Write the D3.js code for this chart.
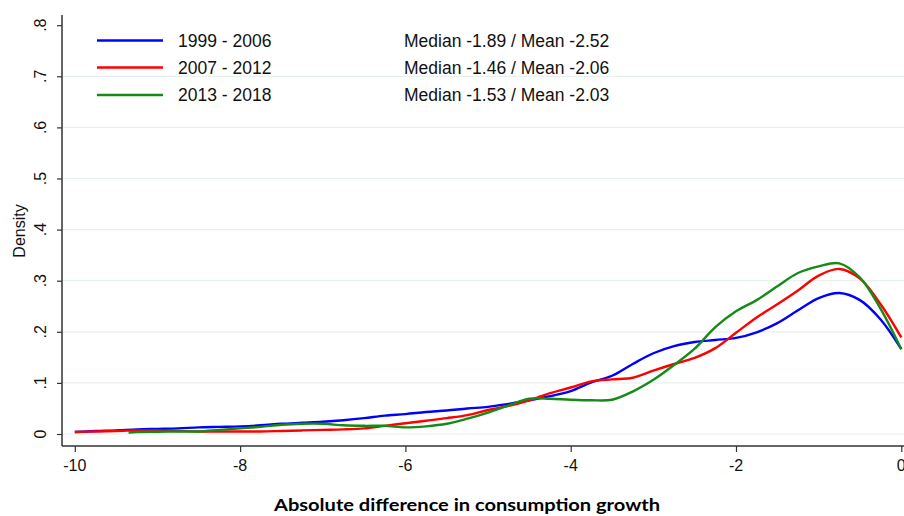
<!DOCTYPE html>
<html>
<head>
<meta charset="utf-8">
<script src="https://cdn.jsdelivr.net/npm/d3@7"></script>
<style>
  html, body { margin: 0; padding: 0; background: #ffffff; }
  svg { display: block; }
</style>
</head>
<body>
<svg id="chart" width="904" height="516"></svg>
<script>
// ---- data ----
const xBlueRed = [-10, -9.75, -9.5, -9.25, -9, -8.75, -8.5, -8.25, -8, -7.75, -7.5, -7.25, -7, -6.75, -6.5, -6.25, -6, -5.75, -5.5, -5.25, -5, -4.75, -4.5, -4.25, -4, -3.75, -3.5, -3.25, -3, -2.75, -2.5, -2.25, -2, -1.75, -1.5, -1.25, -1, -0.75, -0.5, -0.25, 0];
const blueY = [.004, .006, .007, .009, .010, .011, .013, .014, .015, .017, .020, .022, .024, .027, .031, .036, .039, .043, .046, .050, .053, .059, .066, .074, .084, .101, .114, .137, .158, .172, .180, .184, .188, .199, .217, .242, .266, .276, .262, .224, .166];
const redY = [.004, .005, .006, .007, .007, .006, .005, .005, .005, .005, .006, .007, .008, .009, .011, .016, .021, .026, .031, .037, .047, .055, .066, .080, .091, .103, .107, .110, .124, .137, .149, .168, .198, .228, .254, .281, .310, .323, .304, .254, .189];
const xGreen = [-9.35, -9.25, -9, -8.75, -8.5, -8.25, -8, -7.75, -7.5, -7.25, -7, -6.75, -6.5, -6.25, -6, -5.75, -5.5, -5.25, -5, -4.75, -4.5, -4.25, -4, -3.75, -3.5, -3.25, -3, -2.75, -2.5, -2.25, -2, -1.75, -1.5, -1.25, -1, -0.75, -0.5, -0.25, 0];
const greenY = [.003, .004, .0045, .005, .005, .008, .011, .014, .018, .020, .020, .017, .016, .016, .013, .015, .020, .030, .042, .056, .069, .069, .067, .066, .067, .083, .106, .135, .167, .209, .240, .262, .289, .315, .328, .334, .306, .245, .166];

const seriesNames = ["1999 - 2006", "2007 - 2012", "2013 - 2018"];
const seriesStats = ["Median -1.89 / Mean -2.52", "Median -1.46 / Mean -2.06", "Median -1.53 / Mean -2.03"];
const seriesColors = ["#0000ff", "#ff0000", "#168a16"];

const xTicks = [-10, -8, -6, -4, -2, 0];
const xTickLabels = ["-10", "-8", "-6", "-4", "-2", "0"];
const yTicks = [0, .1, .2, .3, .4, .5, .6, .7, .8];
const yTickLabels = ["0", ".1", ".2", ".3", ".4", ".5", ".6", ".7", ".8"];
const yGrid = [0, .1, .2, .3, .4, .5, .6, .7];

const xTitle = "Absolute difference in consumption growth";
const yTitle = "Density";

// ---- layout ----
const svg = d3.select("#chart");
const x = d3.scaleLinear().domain([-10, 0]).range([74.8, 901.3]);
const y = d3.scaleLinear().domain([0, 0.8]).range([434, 25.2]);
const axisX = 62, axisY = 446;
const tickFont = "'Liberation Sans', Arial, Helvetica, sans-serif";

// grid lines
svg.append("g").selectAll("line").data(yGrid).join("line")
  .attr("x1", axisX).attr("x2", 904)
  .attr("y1", d => y(d)).attr("y2", d => y(d))
  .attr("stroke", "#e9f0f2").attr("stroke-width", 1.2);

// left axis
const gy = svg.append("g").attr("transform", `translate(${axisX},0)`)
  .call(d3.axisLeft(y).tickValues(yTicks).tickSize(5).tickFormat(""));
gy.select(".domain").remove();
gy.selectAll(".tick line").attr("stroke", "#333").attr("stroke-width", 1.2);
svg.append("line").attr("x1", axisX).attr("x2", axisX).attr("y1", 15).attr("y2", axisY)
  .attr("stroke", "#333").attr("stroke-width", 1.5);
svg.append("g").selectAll("text").data(yTicks).join("text")
  .attr("transform", d => `translate(46,${y(d)}) rotate(-90)`)
  .attr("text-anchor", "middle")
  .attr("font-family", tickFont).attr("font-size", 16).attr("fill", "#111")
  .text((d, i) => yTickLabels[i]);

// bottom axis
const gx = svg.append("g").attr("transform", `translate(0,${axisY})`)
  .call(d3.axisBottom(x).tickValues(xTicks).tickSize(6).tickFormat(""));
gx.select(".domain").remove();
gx.selectAll(".tick line").attr("stroke", "#333").attr("stroke-width", 1.2);
svg.append("line").attr("x1", axisX).attr("x2", 904).attr("y1", axisY).attr("y2", axisY)
  .attr("stroke", "#333").attr("stroke-width", 1.5);
svg.append("g").selectAll("text").data(xTicks).join("text")
  .attr("x", d => x(d)).attr("y", 471)
  .attr("text-anchor", "middle")
  .attr("font-family", tickFont).attr("font-size", 16).attr("fill", "#111")
  .text((d, i) => xTickLabels[i]);

// titles
svg.append("text")
  .attr("transform", "translate(25,231) rotate(-90)")
  .attr("text-anchor", "middle")
  .attr("font-family", tickFont).attr("font-size", 16).attr("fill", "#111")
  .text(yTitle);
svg.append("text")
  .attr("x", 467).attr("y", 511)
  .attr("text-anchor", "middle")
  .attr("font-family", "Lato, 'Open Sans', sans-serif").attr("font-weight", "bold")
  .attr("font-size", 17).attr("fill", "#000")
  .attr("textLength", 386).attr("lengthAdjust", "spacingAndGlyphs")
  .text(xTitle);

// curves
const line = d3.line().x(d => x(d[0])).y(d => y(d[1])).curve(d3.curveCatmullRom.alpha(0.5));
const seriesData = [
  d3.zip(xBlueRed, blueY),
  d3.zip(xBlueRed, redY),
  d3.zip(xGreen, greenY)
];
svg.append("g").selectAll("path").data(seriesData).join("path")
  .attr("d", line)
  .attr("fill", "none")
  .attr("stroke", (d, i) => seriesColors[i])
  .attr("stroke-width", 2.4)
  .attr("stroke-linejoin", "round");

// legend
const legY = [40.5, 67.5, 95];
const leg = svg.append("g");
leg.selectAll("line").data(seriesNames).join("line")
  .attr("x1", 97).attr("x2", 163)
  .attr("y1", (d, i) => legY[i]).attr("y2", (d, i) => legY[i])
  .attr("stroke", (d, i) => seriesColors[i]).attr("stroke-width", 2.4);
leg.selectAll("text.name").data(seriesNames).join("text").attr("class", "name")
  .attr("x", 178).attr("y", (d, i) => legY[i] + 6)
  .attr("font-family", tickFont).attr("font-size", 17.5).attr("fill", "#111")
  .text(d => d);
leg.selectAll("text.stat").data(seriesStats).join("text").attr("class", "stat")
  .attr("x", 404).attr("y", (d, i) => legY[i] + 6)
  .attr("font-family", tickFont).attr("font-size", 17.5).attr("fill", "#111")
  .text(d => d);
</script>
</body>
</html>
